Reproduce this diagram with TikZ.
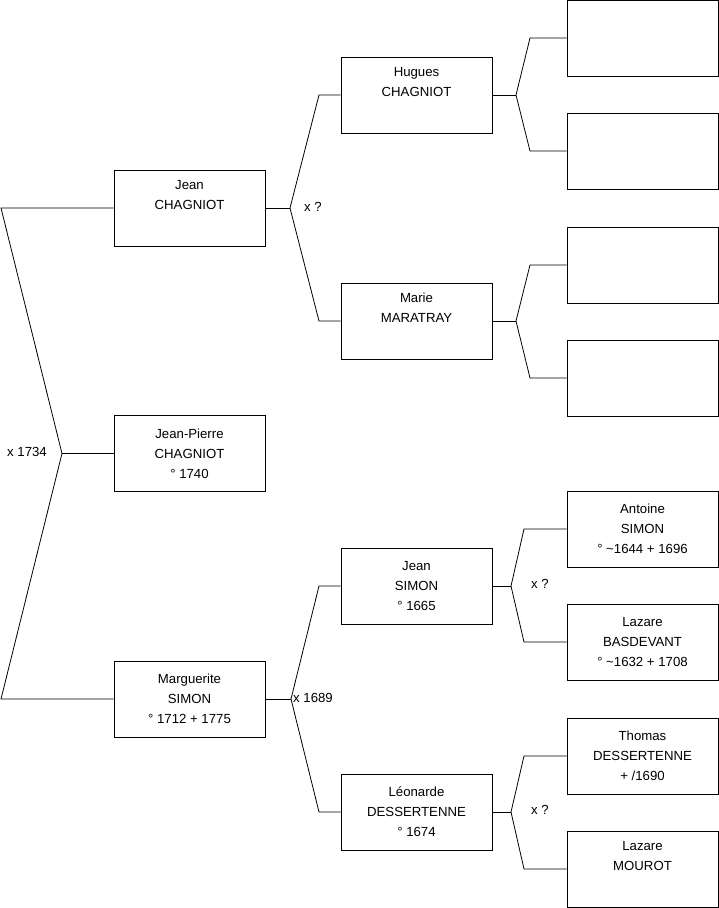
\documentclass[tikz,border=0pt]{standalone}
\usepackage{fontspec}
\setmainfont{Liberation Sans}
\usetikzlibrary{positioning}

\begin{document}
\begin{tikzpicture}[x=1pt, y=-1pt,
  every node/.style={font=\fontsize{13.2}{20}\selectfont},
  pb/.style={draw, line width=0.8pt, minimum width=151pt, minimum height=76pt, align=center, inner sep=0pt},
  ln/.style={line width=0.8pt},
  ml/.style={inner sep=0pt}]
\useasboundingbox (0,0) rectangle (719,908);
% generation 1
\node[pb] (jp)  at (189.5,453.5) {Jean-Pierre\\CHAGNIOT\\° 1740};
% generation 2
\node[pb] (jc)  at (189.5,208) {Jean\\CHAGNIOT\\\strut};
\node[pb] (ms)  at (189.5,699) {Marguerite\\SIMON\\° 1712 + 1775};
% generation 3
\node[pb] (hc)  at (416.5,95)  {Hugues\\CHAGNIOT\\\strut};
\node[pb] (mm)  at (416.5,321) {Marie\\MARATRAY\\\strut};
\node[pb] (js)  at (416.5,586) {Jean\\SIMON\\° 1665};
\node[pb] (ld)  at (416.5,812) {Léonarde\\DESSERTENNE\\° 1674};
% generation 4
\node[pb] (hcf) at (642.5,38)  {};
\node[pb] (hcm) at (642.5,151) {};
\node[pb] (mmf) at (642.5,265) {};
\node[pb] (mmm) at (642.5,378) {};
\node[pb] (as)  at (642.5,529) {Antoine\\SIMON\\° \textasciitilde1644 + 1696};
\node[pb] (lb)  at (642.5,642) {Lazare\\BASDEVANT\\° \textasciitilde1632 + 1708};
\node[pb] (td)  at (642.5,756) {Thomas\\DESSERTENNE\\+ /1690};
\node[pb] (lm)  at (642.5,869) {Lazare\\MOUROT\\\strut};
% forks
\coordinate (f1)  at (62,453.5);
\coordinate (f1a) at (1,208);
\coordinate (f1b) at (1,699);
\coordinate (f2)  at (290,208);
\coordinate (f2a) at (319,95);
\coordinate (f2b) at (319,321);
\coordinate (f3)  at (291,699);
\coordinate (f3a) at (319,586);
\coordinate (f3b) at (319,812);
\coordinate (f4)  at (516,95);
\coordinate (f4a) at (530,38);
\coordinate (f4b) at (530,151);
\coordinate (f5)  at (516,321);
\coordinate (f5a) at (530,265);
\coordinate (f5b) at (530,378);
\coordinate (f6)  at (511,586);
\coordinate (f6a) at (524,529);
\coordinate (f6b) at (524,642);
\coordinate (f7)  at (511,812);
\coordinate (f7a) at (524,756);
\coordinate (f7b) at (524,869);
\draw[ln] (jc.west) -- (f1a) -- (f1) -- (f1b) -- (ms.west);
\draw[ln] (jp.west) -- (f1);
\draw[ln] (hc.west) -- (f2a) -- (f2) -- (f2b) -- (mm.west);
\draw[ln] (jc.east) -- (f2);
\draw[ln] (js.west) -- (f3a) -- (f3) -- (f3b) -- (ld.west);
\draw[ln] (ms.east) -- (f3);
\draw[ln] (hcf.west) -- (f4a) -- (f4) -- (f4b) -- (hcm.west);
\draw[ln] (hc.east) -- (f4);
\draw[ln] (mmf.west) -- (f5a) -- (f5) -- (f5b) -- (mmm.west);
\draw[ln] (mm.east) -- (f5);
\draw[ln] (as.west) -- (f6a) -- (f6) -- (f6b) -- (lb.west);
\draw[ln] (js.east) -- (f6);
\draw[ln] (td.west) -- (f7a) -- (f7) -- (f7b) -- (lm.west);
\draw[ln] (ld.east) -- (f7);
% marriages
\node[ml, anchor=east] (m1) at (47,452) {x 1734};
\node[ml, anchor=west] (m2) at (304,207) {x ?};
\node[ml, anchor=west] (m3) at (293,698) {x 1689};
\node[ml, anchor=west] (m4) at (531,584) {x ?};
\node[ml, anchor=west] (m5) at (531,810) {x ?};
\end{tikzpicture}
\end{document}
